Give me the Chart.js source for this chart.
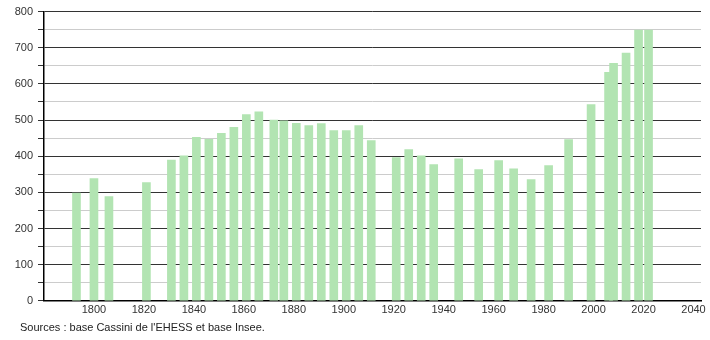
<!DOCTYPE html>
<html>
<head>
<meta charset="utf-8">
<script src="https://cdn.jsdelivr.net/npm/chart.js@4/dist/chart.umd.min.js"></script>
<style>
  html, body { margin: 0; padding: 0; background: #fff; }
  #wrap { position: relative; width: 710px; height: 340px; }
  #source { position: absolute; left: 20px; top: 321px; font: 11px "Liberation Sans", Arial, sans-serif; color: #222; }
</style>
</head>
<body>
<div id="wrap">
  <canvas id="popChart" width="710" height="340"></canvas>
  <div id="source">Sources : base Cassini de l'EHESS et base Insee.</div>
</div>
<script>
// census years and population
var years = [1793, 1800, 1806, 1821, 1831, 1836, 1841, 1846, 1851, 1856, 1861, 1866,
  1872, 1876, 1881, 1886, 1891, 1896, 1901, 1906, 1911, 1921, 1926, 1931, 1936,
  1946, 1954, 1962, 1968, 1975, 1982, 1990, 1999, 2006, 2008, 2013, 2018, 2022];
var population = [298, 338, 288, 327, 389, 401, 452, 447, 463, 480, 515, 523,
  500, 498, 491, 485, 490, 471, 471, 485, 443, 396, 418, 401, 377,
  393, 363, 388, 365, 335, 374, 446, 543, 632, 657, 685, 749, 749];
var yTicks = [0, 100, 200, 300, 400, 500, 600, 700, 800];

var points = years.map(function(y, i) { return { x: y, y: population[i] }; });

var ctx = document.getElementById('popChart');
var chart = new Chart(ctx, {
  type: 'bar',
  data: {
    datasets: [{
      label: 'Population',
      data: points,
      backgroundColor: '#b2e4b2',
      borderWidth: 0,
      barThickness: 8
    }]
  },
  options: {
    responsive: false,
    animation: false,
    layout: { padding: { left: 0, right: 9, top: 4, bottom: 20 } },
    plugins: { legend: { display: false }, tooltip: { enabled: false } },
    scales: {
      x: {
        type: 'linear',
        min: 1780,
        max: 2043,
        offset: false,
        grid: { display: false, drawTicks: false },
        border: { color: '#000', width: 1.5 },
        ticks: {
          stepSize: 20,
          includeBounds: false,
          padding: 3,
          color: '#333',
          font: { family: 'Liberation Sans', size: 11 },
          maxRotation: 0,
          callback: function(v) { return v < 1800 ? '' : String(v); }
        }
      },
      y: {
        min: 0,
        max: 800,
        afterFit: function(scale) { scale.width = 44; },
        grid: {
          color: function(c) { return c.tick && c.tick.value % 100 === 0 ? '#333' : '#ccc'; },
          tickColor: '#333',
          tickLength: 6
        },
        border: { color: '#000', width: 1.5 },
        ticks: {
          stepSize: 50,
          padding: 5,
          color: '#333',
          font: { family: 'Liberation Sans', size: 11 },
          callback: function(v) { return yTicks.indexOf(v) >= 0 ? String(v) : ''; }
        }
      }
    }
  }
});
</script>
</body>
</html>
